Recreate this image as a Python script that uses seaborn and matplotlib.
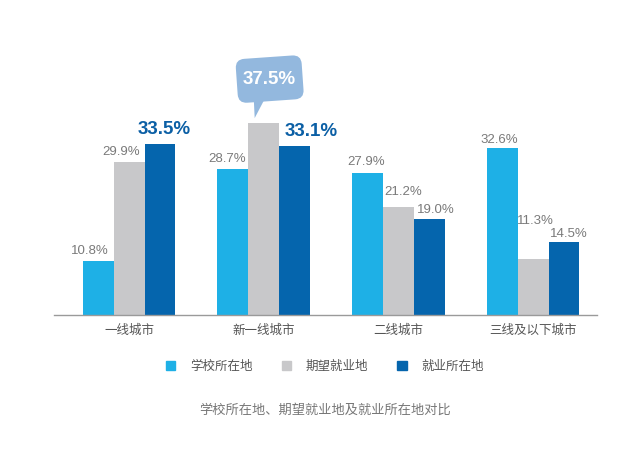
import matplotlib
matplotlib.use("Agg")
import matplotlib.pyplot as plt
import matplotlib.patches as mpatches
import matplotlib.transforms as mtransforms
import seaborn as sns
import pandas as pd

categories = ["一线城市", "新一线城市", "二线城市", "三线及以下城市"]
series_names = ["学校所在地", "期望就业地", "就业所在地"]
school = [10.8, 28.7, 27.9, 32.6]
expected = [29.9, 37.5, 21.2, 11.3]
employed = [33.5, 33.1, 19.0, 14.5]
title_text = "学校所在地、期望就业地及就业所在地对比"

colors = ["#1eb0e6", "#c8c8ca", "#0565ad"]
label_gray = "#7a7a7a"
hl_blue = "#0b5fa5"
bubble_color = "#93b8de"

# label placement offsets in points (layout only): (series, category) -> (dx, dy)
label_offsets = {
    (0, 0): (-5.8, 3.0), (1, 0): (-5.8, 3.0), (2, 0): (3.2, 4.0),
    (0, 1): (-4.3, 2.5), (2, 1): (12.2, 4.0),
    (0, 2): (-0.7, 3.5), (1, 2): (3.6, 6.5), (2, 2): (5.0, 2.0),
    (0, 3): (-2.2, 2.0), (1, 3): (2.0, 22.5), (2, 3): (3.8, 1.5),
}

sns.set_theme(style="white")
plt.rcParams["font.family"] = ["Liberation Sans", "Noto Sans CJK SC", "DejaVu Sans"]

rows = []
for name, vals in zip(series_names, [school, expected, employed]):
    for c, v in zip(categories, vals):
        rows.append({"city": c, "series": name, "value": v})
df = pd.DataFrame(rows)

fig = plt.figure(figsize=(6.4, 4.59), dpi=100)
ax = fig.add_axes([54 / 640, 1 - 314.5 / 459, (597 - 54) / 640, 269 / 459])

sns.barplot(data=df, x="city", y="value", hue="series", order=categories,
            hue_order=series_names, palette=colors, width=0.69, gap=0,
            saturation=1, legend=False, ax=ax, errorbar=None, linewidth=0)

ax.set_xlim(-0.557, 3.475)
ax.set_ylim(0.5, 52.5)
ax.set_xlabel("")
ax.set_ylabel("")
ax.set_yticks([])
for s in ["top", "right", "left"]:
    ax.spines[s].set_visible(False)
ax.spines["bottom"].set_color("#9a9a9a")
ax.spines["bottom"].set_linewidth(1.0)
ax.tick_params(axis="x", length=0, pad=7, labelsize=9, labelcolor="#555555")

max_val = max(expected)
for si, cont in enumerate(ax.containers):
    for ci, bar in enumerate(cont):
        h = bar.get_height()
        cx = bar.get_x() + bar.get_width() / 2
        if si == 1 and h == max_val:
            # speech-bubble callout, placed relative to the bar top (pixel units)
            px, py = ax.transData.transform((cx, h))
            bx, by = px + 6, py + 44
            bw, bh = 66, 44
            rot = mtransforms.Affine2D().rotate_deg_around(bx, by, 4)
            box = mpatches.FancyBboxPatch((bx - bw / 2, by - bh / 2), bw, bh,
                                          boxstyle="round,pad=0,rounding_size=9",
                                          fc=bubble_color, ec="none",
                                          transform=rot, clip_on=False)
            tail = mpatches.Polygon([(px - 10, by - bh / 2 + 4), (px + 2, by - bh / 2 + 4),
                                     (px - 9, py + 5)], closed=True,
                                    fc=bubble_color, ec="none",
                                    transform=mtransforms.IdentityTransform(),
                                    clip_on=False)
            fig.patches.extend([tail, box])
            fig.text(bx / fig.dpi / fig.get_figwidth(), by / fig.dpi / fig.get_figheight(),
                     f"{h:.1f}%", ha="center", va="center", color="white",
                     fontsize=13.5, fontweight="bold")
            continue
        dx, dy = label_offsets.get((si, ci), (0, 3))
        if si == 2 and ci < 2:
            ax.annotate(f"{h:.1f}%", xy=(cx, h), xytext=(dx, dy),
                        textcoords="offset points", ha="center", va="bottom",
                        color=hl_blue, fontsize=13.5, fontweight="bold")
        else:
            ax.annotate(f"{h:.1f}%", xy=(cx, h), xytext=(dx, dy),
                        textcoords="offset points", ha="center", va="bottom",
                        color=label_gray, fontsize=9.5)

handles = [mpatches.Patch(color=c, label=n) for c, n in zip(colors, series_names)]
fig.legend(handles=handles, loc="center", bbox_to_anchor=(325 / 640, 1 - 367 / 459),
           ncol=3, frameon=False, handlelength=0.75, handleheight=0.75,
           handletextpad=1.2, columnspacing=2.3, fontsize=9,
           labelcolor="#555555")

fig.text(325 / 640, 1 - 410 / 459, title_text, ha="center", va="center",
         fontsize=9.5, color="#777777")

fig.savefig("out.png", dpi=100)
